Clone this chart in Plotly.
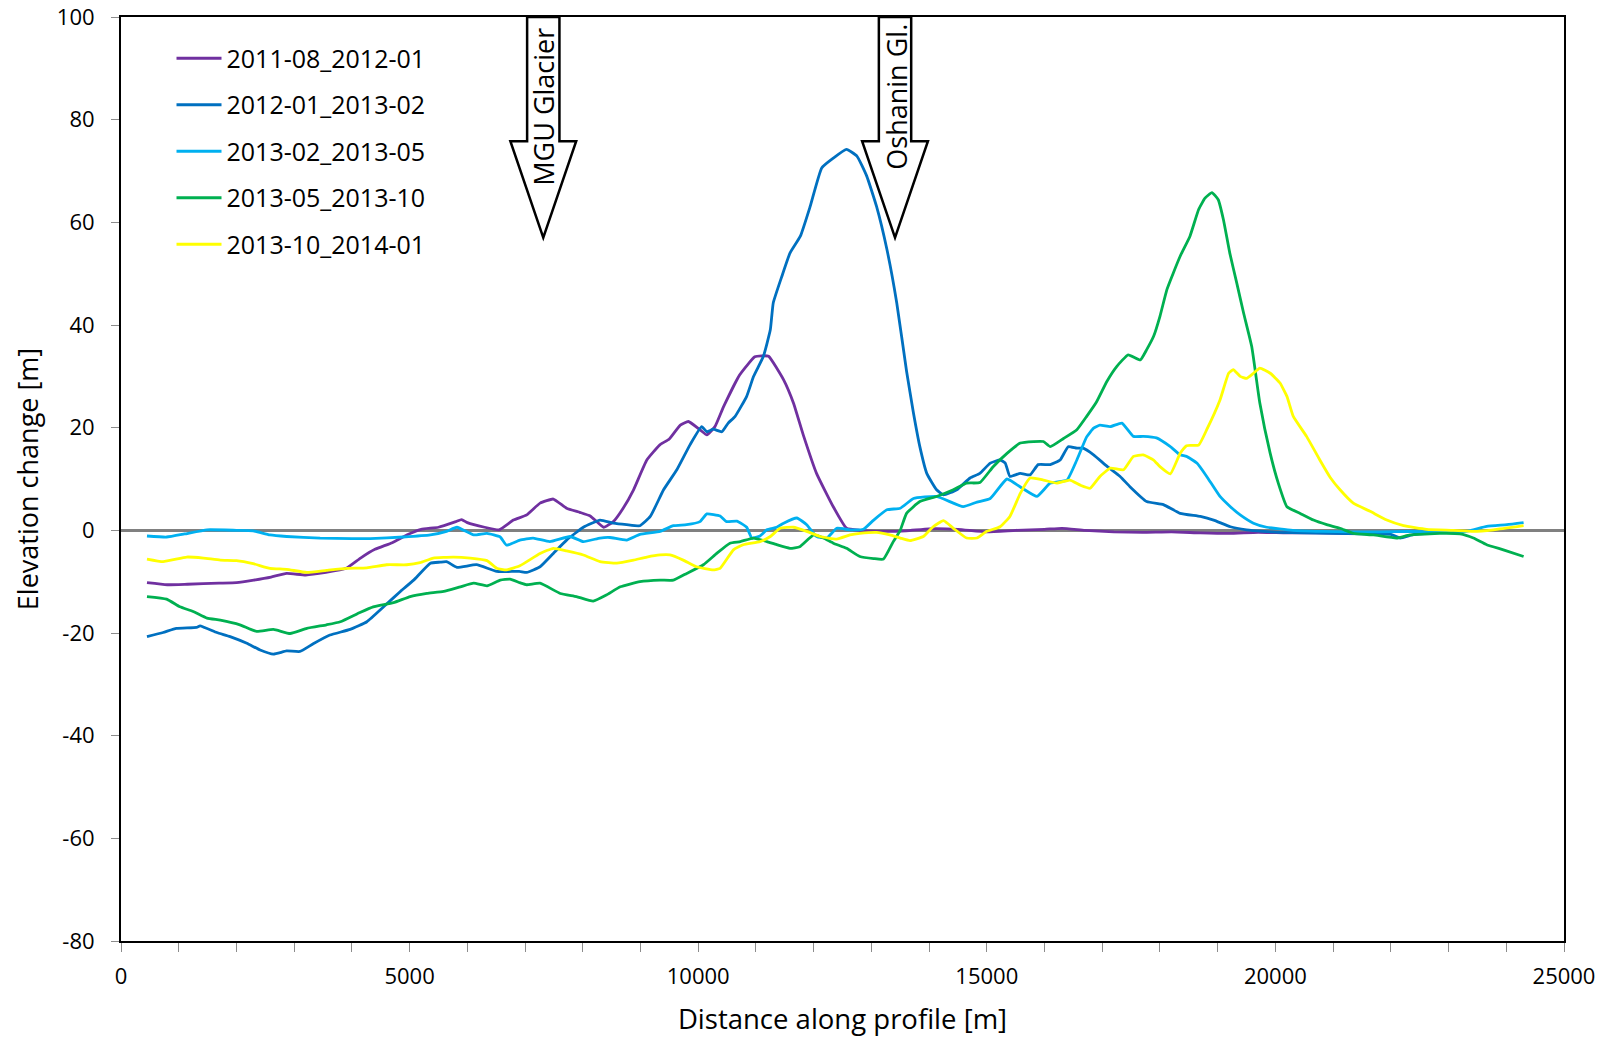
import plotly.graph_objects as go

# ---- series data: distance along profile [m] and elevation change [m] ----
series_names = [
    "2011-08_2012-01",
    "2012-01_2013-02",
    "2013-02_2013-05",
    "2013-05_2013-10",
    "2013-10_2014-01",
]
series_colors = ["#7030A0", "#0070C0", "#00B0F0", "#00B050", "#FFFF00"]

dist_2011_08 = [450, 800, 1150, 1700, 2000, 2300, 2600, 2870, 3200, 3550, 3900, 4150, 4400, 4700,
                4950, 5200, 5500, 5800, 5900, 6000, 6300, 6550, 6800, 7030, 7260, 7490, 7720, 7950,
                8130, 8360, 8530, 8700, 8880, 9110, 9340, 9500, 9690, 9830, 10030, 10150, 10290,
                10440, 10720, 10980, 11100, 11220, 11480, 11650, 11820, 12050, 12340, 12570, 12800,
                13200, 13600, 14000, 14500, 15000, 15500, 16000, 16300, 16700, 17200, 17700, 18200,
                18700, 19200, 19700, 20200, 20700, 21200, 21700, 22000]
dz_2011_08 = [-10.2, -10.6, -10.5, -10.3, -10.2, -9.7, -9.1, -8.4, -8.7, -8.2, -7.4, -5.4, -3.7, -2.4,
              -0.9, 0.2, 0.6, 1.7, 2.1, 1.5, 0.6, 0.1, 2.0, 3.0, 5.3, 6.1, 4.3, 3.5,
              2.8, 0.6, 1.7, 4.3, 7.9, 13.7, 16.7, 17.8, 20.5, 21.2, 19.6, 18.6, 20.2,
              24.1, 30.3, 33.8, 34.0, 33.9, 29.3, 24.8, 18.6, 11.1, 4.6, 0.4, 0.0,
              -0.2, -0.1, 0.3, 0.2, -0.3, 0.0, 0.2, 0.4, 0.0, -0.3, -0.4, -0.3,
              -0.5, -0.6, -0.4, -0.5, -0.5, -0.6, -0.5, -0.6]

dist_2012_01 = [450, 730, 960, 1310, 1370, 1660, 1890, 2180, 2410, 2640, 2870, 3100, 3330, 3620,
                3970, 4260, 4550, 4840, 5070, 5360, 5530, 5640, 5820, 6160, 6510, 6900, 7030, 7260,
                7490, 7720, 8010, 8300, 8530, 8760, 8990, 9170, 9400, 9630, 9860, 10060, 10150,
                10260, 10410, 10520, 10640, 10840, 10960, 11130, 11250, 11300, 11450, 11590, 11770,
                11940, 12140, 12340, 12570, 12750, 12920, 13090, 13270, 13440, 13610, 13730, 13840,
                13960, 14130, 14250, 14480, 14710, 14880, 15060, 15230, 15320, 15400, 15580, 15750,
                15890, 16100, 16270, 16410, 16560, 16670, 16850, 17080, 17310, 17480, 17770, 18060,
                18350, 18700, 18930, 19220, 19500, 19790, 20080, 20500, 21000, 21500, 22000, 22160,
                22400, 22700]
dz_2012_01 = [-20.7, -19.9, -19.1, -18.9, -18.6, -19.9, -20.7, -22.0, -23.3, -24.1, -23.5, -23.6, -22.1, -20.4,
              -19.3, -17.8, -14.9, -11.9, -9.7, -6.4, -6.2, -6.1, -7.2, -6.7, -8.0, -8.0, -8.2, -7.1,
              -4.5, -1.9, 0.6, 2.0, 1.4, 1.1, 0.9, 2.7, 7.9, 11.8, 16.7, 20.2, 19.2,
              19.7, 19.2, 20.9, 22.2, 26.1, 30.0, 33.9, 39.1, 44.3, 49.5, 54.0, 57.3,
              63.1, 70.6, 72.5, 74.2, 72.9, 69.0, 63.1, 54.7, 44.3, 31.0, 22.8, 16.3,
              11.1, 7.9, 6.9, 7.9, 10.2, 11.1, 13.1, 13.7, 13.1, 10.5, 11.1, 10.8,
              12.8, 12.8, 13.7, 16.3, 16.0, 16.0, 14.7, 12.5, 10.5, 8.5, 5.6, 5.0,
              3.3, 2.7, 2.0, 0.7, 0.1, -0.2, -0.4, -0.5, -0.6, -0.7, -0.8, -1.5,
              -0.8, -0.6]

dist_2013_02 = [450, 790, 1100, 1490, 2000, 2290, 2580, 2870, 3450, 4000, 4320, 4890, 5360, 5640,
                5820, 6110, 6340, 6570, 6680, 6910, 7140, 7430, 7780, 8010, 8300, 8470, 8760, 8990,
                9340, 9570, 9800, 10030, 10150, 10380, 10490, 10670, 10840, 10930, 11070, 11190,
                11360, 11480, 11710, 11880, 12050, 12230, 12400, 12630, 12860, 13040, 13270, 13500,
                13730, 14130, 14590, 14830, 15060, 15350, 15600, 15870, 16100, 16390, 16560, 16730,
                16850, 16960, 17140, 17340, 17540, 17710, 17940, 18180, 18350, 18460, 18640, 18810,
                19040, 19220, 19390, 19620, 19850, 20300, 20800, 21300, 21800, 22300, 22800, 23300,
                23660, 24010, 24300]
dz_2013_02 = [-1.1, -1.3, -0.7, 0.1, 0.0, -0.1, -0.9, -1.2, -1.5, -1.6, -1.6, -1.3, -0.9, -0.2,
              0.6, -0.9, -0.6, -1.3, -2.9, -1.9, -1.5, -2.2, -1.2, -2.2, -1.5, -1.4, -1.9, -0.8,
              -0.2, 0.9, 1.1, 1.7, 3.2, 2.8, 1.7, 1.8, 0.6, -1.5, -1.1, 0.1,
              0.6, 1.4, 2.4, 1.1, -1.2, -1.5, 0.4, 0.1, 0.2, 2.0, 4.0, 4.3,
              6.2, 6.6, 4.6, 5.5, 6.2, 10.0, 8.3, 6.6, 9.2, 9.8, 13.7, 18.2,
              19.9, 20.5, 20.2, 20.9, 18.3, 18.3, 18.0, 16.3, 14.7, 14.4, 13.1, 10.5,
              6.6, 4.6, 3.0, 1.4, 0.6, 0.0, -0.2, -0.3, -0.3, -0.2, -0.3, -0.2,
              0.75, 1.1, 1.5]

dist_2013_05 = [450, 790, 1020, 1250, 1490, 1720, 2060, 2350, 2640, 2930, 3220, 3560, 3800, 4140,
                4370, 4720, 5010, 5300, 5590, 5880, 6110, 6340, 6570, 6740, 6910, 7030, 7260, 7610,
                7890, 8180, 8410, 8650, 8990, 9340, 9570, 9800, 10090, 10320, 10550, 10730, 10960,
                11190, 11360, 11590, 11760, 12000, 12170, 12340, 12570, 12800, 13040, 13210, 13380,
                13500, 13610, 13840, 14130, 14420, 14650, 14880, 15110, 15350, 15580, 15810, 15980,
                16100, 16330, 16560, 16730, 16900, 17080, 17250, 17450, 17660, 17770, 17890, 18000,
                18120, 18230, 18350, 18520, 18670, 18780, 18900, 19010, 19100, 19210, 19330, 19450,
                19590, 19730, 19910, 20050, 20200, 20430, 20660, 20890, 21120, 21350, 21700, 22100,
                22330, 22850, 23200, 23430, 23660, 23950, 24300]
dz_2013_05 = [-12.9, -13.4, -14.9, -15.8, -17.1, -17.5, -18.4, -19.7, -19.3, -20.1, -19.1, -18.4, -17.8, -16.0,
              -14.9, -14.1, -12.9, -12.3, -11.9, -11.0, -10.3, -10.8, -9.7, -9.5, -10.2, -10.6, -10.3, -12.3,
              -12.9, -13.8, -12.6, -11.0, -10.0, -9.7, -9.7, -8.4, -6.7, -4.5, -2.5, -2.2, -1.5,
              -2.2, -2.8, -3.5, -3.2, -0.9, -1.5, -2.5, -3.5, -5.1, -5.5, -5.6, -2.2,
              0.0, 3.3, 5.6, 6.6, 7.9, 9.2, 9.3, 12.4, 15.0, 17.0, 17.3, 17.3,
              16.3, 17.9, 19.6, 22.2, 25.0, 29.0, 31.9, 34.2, 33.2, 35.2, 37.8, 41.7,
              46.9, 50.1, 53.4, 57.3, 62.5, 64.7, 65.8, 64.4, 60.5, 54.0, 48.2, 42.3,
              35.8, 24.8, 15.0, 9.2, 4.6, 3.3, 2.0, 1.1, 0.4, -0.6, -0.9, -1.5,
              -0.9, -0.6, -0.7, -1.5, -2.8, -3.8, -5.1]

dist_2013_10 = [450, 730, 1140, 1430, 1720, 2000, 2290, 2580, 2870, 3220, 3560, 3910, 4260, 4600,
                4950, 5180, 5410, 5760, 6050, 6340, 6510, 6680, 6910, 7260, 7490, 7720, 8010, 8300,
                8590, 8880, 9110, 9340, 9510, 9740, 9970, 10260, 10380, 10610, 10780, 11070, 11250,
                11420, 11650, 11880, 12110, 12400, 12630, 12800, 13090, 13320, 13500, 13670, 13900,
                14070, 14250, 14420, 14650, 14830, 15000, 15230, 15400, 15580, 15750, 15980, 16210,
                16440, 16620, 16790, 16960, 17140, 17370, 17540, 17710, 17890, 18000, 18180, 18350,
                18460, 18670, 18810, 19040, 19190, 19270, 19390, 19500, 19620, 19730, 19910, 20080,
                20200, 20310, 20540, 20770, 20950, 21120, 21350, 21640, 21930, 22220, 22620, 23080,
                23430, 23780, 24300]
dz_2013_10 = [-5.6, -6.1, -5.2, -5.4, -5.8, -5.9, -6.5, -7.4, -7.6, -8.2, -7.8, -7.4, -7.3, -6.7,
              -6.7, -6.3, -5.4, -5.2, -5.4, -5.9, -7.4, -7.7, -6.9, -4.5, -3.5, -4.0, -4.8, -6.1,
              -6.4, -5.8, -5.2, -4.8, -4.8, -5.8, -7.1, -7.7, -7.4, -3.8, -2.8, -2.2, -1.2,
              0.4, 0.6, -0.2, -1.2, -1.7, -0.9, -0.6, -0.4, -0.9, -1.5, -2.0, -1.2,
              0.7, 1.9, 0.4, -1.5, -1.5, -0.2, 0.7, 2.7, 7.2, 10.2, 9.8, 9.2,
              9.8, 8.8, 8.2, 10.5, 12.1, 11.8, 14.4, 14.7, 13.7, 12.4, 11.0, 15.0,
              16.5, 16.6, 19.6, 25.4, 30.6, 31.3, 30.0, 29.6, 30.6, 31.6, 30.6, 28.7,
              26.1, 22.2, 18.3, 13.7, 10.3, 7.9, 5.3, 3.7, 2.0, 0.9, 0.2, 0.0,
              -0.2, 0.1, 0.9]

series_dist = [dist_2011_08, dist_2012_01, dist_2013_02, dist_2013_05, dist_2013_10]
series_dz = [dz_2011_08, dz_2012_01, dz_2013_02, dz_2013_05, dz_2013_10]

# axis ticks
x_tick_vals = [0, 5000, 10000, 15000, 20000, 25000]
x_tick_text = ["0", "5000", "10000", "15000", "20000", "25000"]
y_tick_vals = [-80, -60, -40, -20, 0, 20, 40, 60, 80, 100]
y_tick_text = ["-80", "-60", "-40", "-20", "0", "20", "40", "60", "80", "100"]

# glacier markers along the profile
glacier_labels = ["MGU Glacier", "Oshanin Gl."]
glacier_dist = [7316, 13410]
glacier_label_y = [82.5, 84.4]

FONT = "Open Sans"

fig = go.Figure()
for name, color, xs, ys in zip(series_names, series_colors, series_dist, series_dz):
    fig.add_trace(go.Scatter(
        x=xs, y=ys, name=name, mode="lines", legendgroup=name,
        line=dict(color=color, width=2.8, shape="spline", smoothing=0.4),
    ))

# block arrows pointing down onto the profile
SHAFT_HW, HEAD_HW = 280, 570
HEAD_BASE, TIP_Y, TOP_Y = 75.8, 57.0, 100
for label, xc, ly in zip(glacier_labels, glacier_dist, glacier_label_y):
    pts = [(xc - SHAFT_HW, TOP_Y), (xc - SHAFT_HW, HEAD_BASE), (xc - HEAD_HW, HEAD_BASE),
           (xc, TIP_Y), (xc + HEAD_HW, HEAD_BASE), (xc + SHAFT_HW, HEAD_BASE),
           (xc + SHAFT_HW, TOP_Y)]
    path = "M " + " L ".join(f"{px},{py}" for px, py in pts) + " Z"
    fig.add_shape(type="path", path=path, xref="x", yref="y",
                  line=dict(color="black", width=2.5), fillcolor="white", layer="above")
    fig.add_annotation(x=xc + 10, y=ly, xref="x", yref="y", text=label, textangle=-90,
                       showarrow=False, font=dict(family=FONT, size=27, color="black"))

fig.update_layout(
    width=1609, height=1037,
    margin=dict(l=121, r=45, t=17, b=96, pad=0),
    paper_bgcolor="white", plot_bgcolor="white",
    font=dict(family=FONT, size=22, color="black"),
    showlegend=True,
    legend=dict(x=0.035, y=0.980, xanchor="left", yanchor="top",
                bgcolor="rgba(0,0,0,0)", font=dict(family=FONT, size=25, color="black"),
                tracegroupgap=11, itemwidth=45),
)
fig.update_xaxes(
    range=[0, 25000], tickvals=x_tick_vals, ticktext=x_tick_text, automargin=False,
    ticks="outside", ticklen=9, tickwidth=1, tickcolor="#8c8c8c",
    minor=dict(dtick=1000, ticks="outside", ticklen=9, tickwidth=1, tickcolor="#8c8c8c", showgrid=False),
    showline=True, linecolor="black", linewidth=2, mirror=True,
    showgrid=False, zeroline=False, ticklabelstandoff=6,
    title=dict(text="Distance along profile [m]", font=dict(family=FONT, size=27.5), standoff=24),
    tickfont=dict(family=FONT, size=22),
)
fig.update_yaxes(
    range=[-80, 100], tickvals=y_tick_vals, ticktext=y_tick_text, automargin=False,
    ticks="outside", ticklen=8, tickwidth=1, tickcolor="#8c8c8c",
    showline=True, linecolor="black", linewidth=2, mirror=True,
    showgrid=False, zeroline=True, zerolinecolor="#808080", zerolinewidth=2.5,
    ticklabelstandoff=12,
    title=dict(text="Elevation change [m]", font=dict(family=FONT, size=27), standoff=10),
    tickfont=dict(family=FONT, size=22),
)

fig.write_html("out.html")
